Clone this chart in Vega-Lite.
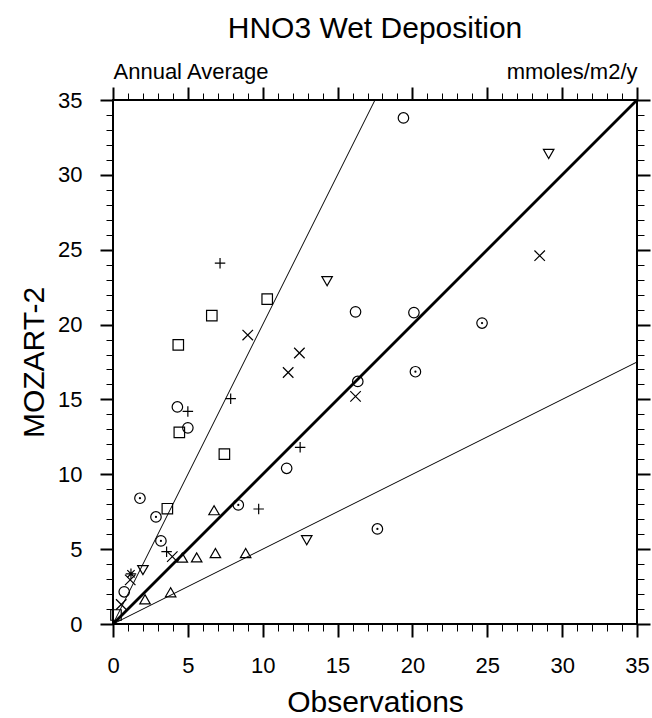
{
  "$schema": "https://vega.github.io/schema/vega-lite/v6.json",
  "autosize": "none",
  "width": 524,
  "height": 524,
  "padding": {"left": 113, "top": 100, "right": 15, "bottom": 94},
  "background": "white",
  "title": {"text": "HNO3 Wet Deposition", "fontSize": 30, "fontWeight": "normal", "font": "Liberation Sans", "color": "black", "offset": 16},
  "config": {
    "view": {"stroke": "black", "strokeWidth": 2},
    "axis": {
      "domain": false,
      "grid": false,
      "tickColor": "black",
      "labelColor": "black",
      "titleColor": "black",
      "labelFont": "Liberation Sans",
      "titleFont": "Liberation Sans",
      "titleFontWeight": "normal",
      "labelFlush": false,
      "labelOverlap": false
    }
  },
  "datasets": {
    "sites": [
      {"obs": 19.4, "model": 33.8, "marker": "circle"},
      {"obs": 4.3, "model": 14.5, "marker": "circle"},
      {"obs": 5.0, "model": 13.1, "marker": "circle"},
      {"obs": 11.6, "model": 10.4, "marker": "circle"},
      {"obs": 16.2, "model": 20.85, "marker": "circle"},
      {"obs": 20.1, "model": 20.8, "marker": "circle"},
      {"obs": 16.35, "model": 16.2, "marker": "circle"},
      {"obs": 0.75, "model": 2.15, "marker": "circle"},
      {"obs": 24.65, "model": 20.1, "marker": "dotcircle"},
      {"obs": 20.2, "model": 16.85, "marker": "dotcircle"},
      {"obs": 1.8, "model": 8.4, "marker": "dotcircle"},
      {"obs": 2.87, "model": 7.15, "marker": "dotcircle"},
      {"obs": 3.2, "model": 5.55, "marker": "dotcircle"},
      {"obs": 8.37, "model": 7.95, "marker": "dotcircle"},
      {"obs": 17.66, "model": 6.35, "marker": "dotcircle"},
      {"obs": 10.3, "model": 21.7, "marker": "square"},
      {"obs": 6.6, "model": 20.6, "marker": "square"},
      {"obs": 4.36, "model": 18.65, "marker": "square"},
      {"obs": 4.43, "model": 12.8, "marker": "square"},
      {"obs": 7.44, "model": 11.35, "marker": "square"},
      {"obs": 3.63, "model": 7.7, "marker": "square"},
      {"obs": 0.2, "model": 0.6, "marker": "square"},
      {"obs": 6.75, "model": 7.6, "marker": "triangle"},
      {"obs": 4.63, "model": 4.43, "marker": "triangle"},
      {"obs": 5.59, "model": 4.45, "marker": "triangle"},
      {"obs": 6.84, "model": 4.74, "marker": "triangle"},
      {"obs": 8.86, "model": 4.74, "marker": "triangle"},
      {"obs": 2.14, "model": 1.65, "marker": "triangle"},
      {"obs": 3.85, "model": 2.12, "marker": "triangle"},
      {"obs": 14.3, "model": 22.9, "marker": "invtriangle"},
      {"obs": 29.1, "model": 31.4, "marker": "invtriangle"},
      {"obs": 12.94, "model": 5.6, "marker": "invtriangle"},
      {"obs": 2.0, "model": 3.6, "marker": "invtriangle"},
      {"obs": 7.15, "model": 24.1, "marker": "plus"},
      {"obs": 5.0, "model": 14.2, "marker": "plus"},
      {"obs": 7.86, "model": 15.05, "marker": "plus"},
      {"obs": 12.5, "model": 11.8, "marker": "plus"},
      {"obs": 9.73, "model": 7.68, "marker": "plus"},
      {"obs": 3.58, "model": 4.83, "marker": "plus"},
      {"obs": 28.5, "model": 24.6, "marker": "cross"},
      {"obs": 9.0, "model": 19.3, "marker": "cross"},
      {"obs": 11.7, "model": 16.8, "marker": "cross"},
      {"obs": 12.45, "model": 18.1, "marker": "cross"},
      {"obs": 16.2, "model": 15.2, "marker": "cross"},
      {"obs": 3.96, "model": 4.5, "marker": "cross"},
      {"obs": 0.55, "model": 1.3, "marker": "cross"},
      {"obs": 1.15, "model": 2.95, "marker": "cross"},
      {"obs": 1.2, "model": 3.35, "marker": "asterisk"}
    ],
    "guides": [
      {"obs": 0, "model": 0, "ratio": "2:1"},
      {"obs": 17.5, "model": 35, "ratio": "2:1"},
      {"obs": 0, "model": 0, "ratio": "1:2"},
      {"obs": 35, "model": 17.5, "ratio": "1:2"},
      {"obs": 0, "model": 0, "ratio": "1:1"},
      {"obs": 35, "model": 35, "ratio": "1:1"}
    ]
  },
  "resolve": {"axis": {"x": "independent", "y": "independent"}},
  "layer": [
    {
      "data": {"name": "guides"},
      "transform": [{"filter": "datum.ratio !== '1:1'"}],
      "mark": {"type": "line", "color": "black", "strokeWidth": 1},
      "encoding": {
        "x": {"field": "obs", "type": "quantitative", "scale": {"domain": [0, 35], "nice": false, "zero": false},
          "axis": {"orient": "bottom", "values": [0, 5, 10, 15, 20, 25, 30, 35], "tickSize": 13, "tickWidth": 2,
            "labelFontSize": 22, "labelPadding": 18, "title": "Observations", "titleFontSize": 30, "titlePadding": 11}},
        "y": {"field": "model", "type": "quantitative", "scale": {"domain": [0, 35], "nice": false, "zero": false},
          "axis": {"orient": "left", "values": [0, 5, 10, 15, 20, 25, 30, 35], "tickSize": 13, "tickWidth": 2,
            "labelFontSize": 22, "labelPadding": 18, "title": "MOZART-2", "titleFontSize": 30, "titlePadding": 8}},
        "detail": {"field": "ratio"}
      }
    },
    {
      "data": {"name": "guides"},
      "transform": [{"filter": "datum.ratio === '1:1'"}],
      "mark": {"type": "line", "color": "black", "strokeWidth": 2.8},
      "encoding": {
        "x": {"field": "obs", "type": "quantitative",
          "axis": {"orient": "bottom", "values": [0, 1, 2, 3, 4, 5, 6, 7, 8, 9, 10, 11, 12, 13, 14, 15, 16, 17, 18, 19, 20, 21, 22, 23, 24, 25, 26, 27, 28, 29, 30, 31, 32, 33, 34, 35],
            "tickSize": 7, "tickWidth": 1, "labels": false, "title": null}},
        "y": {"field": "model", "type": "quantitative",
          "axis": {"orient": "left", "values": [0, 1, 2, 3, 4, 5, 6, 7, 8, 9, 10, 11, 12, 13, 14, 15, 16, 17, 18, 19, 20, 21, 22, 23, 24, 25, 26, 27, 28, 29, 30, 31, 32, 33, 34, 35],
            "tickSize": 7, "tickWidth": 1, "labels": false, "title": null}}
      }
    },
    {
      "data": {"name": "sites"},
      "mark": {"type": "point", "filled": false, "color": "black", "strokeWidth": 1.2, "opacity": 1},
      "encoding": {
        "x": {"field": "obs", "type": "quantitative",
          "axis": {"orient": "top", "values": [0, 5, 10, 15, 20, 25, 30, 35], "tickSize": 13, "tickWidth": 2, "labels": false,
            "title": "Annual Average", "titleAnchor": "start", "titleAlign": "left", "titleFontSize": 22, "titlePadding": 3}},
        "y": {"field": "model", "type": "quantitative",
          "axis": {"orient": "right", "values": [0, 5, 10, 15, 20, 25, 30, 35], "tickSize": 13, "tickWidth": 2, "labels": false, "title": null}},
        "shape": {"field": "marker", "type": "nominal", "legend": null,
          "scale": {"domain": ["circle", "dotcircle", "square", "triangle", "invtriangle", "plus", "cross", "asterisk"],
            "range": ["circle", "circle", "square", "triangle-up", "triangle-down", "M-1,0H1M0,-1V1", "M-1,-1L1,1M-1,1L1,-1", "M-1,0H1M0,-1V1M-0.7,-0.7L0.7,0.7M-0.7,0.7L0.7,-0.7"]}},
        "size": {"field": "marker", "type": "nominal", "legend": null,
          "scale": {"domain": ["circle", "dotcircle", "square", "triangle", "invtriangle", "plus", "cross", "asterisk"],
            "range": [110, 110, 110, 180, 180, 150, 110, 120]}}
      }
    },
    {
      "data": {"name": "sites"},
      "transform": [{"filter": "datum.marker === 'dotcircle'"}],
      "mark": {"type": "point", "filled": true, "shape": "circle", "color": "black", "size": 5, "opacity": 1},
      "encoding": {
        "x": {"field": "obs", "type": "quantitative",
          "axis": {"orient": "top", "values": [0, 1, 2, 3, 4, 5, 6, 7, 8, 9, 10, 11, 12, 13, 14, 15, 16, 17, 18, 19, 20, 21, 22, 23, 24, 25, 26, 27, 28, 29, 30, 31, 32, 33, 34, 35],
            "tickSize": 7, "tickWidth": 1, "labels": false,
            "title": "mmoles/m2/y", "titleAnchor": "end", "titleAlign": "right", "titleFontSize": 22, "titlePadding": 9}},
        "y": {"field": "model", "type": "quantitative",
          "axis": {"orient": "right", "values": [0, 1, 2, 3, 4, 5, 6, 7, 8, 9, 10, 11, 12, 13, 14, 15, 16, 17, 18, 19, 20, 21, 22, 23, 24, 25, 26, 27, 28, 29, 30, 31, 32, 33, 34, 35],
            "tickSize": 7, "tickWidth": 1, "labels": false, "title": null}}
      }
    }
  ]
}
